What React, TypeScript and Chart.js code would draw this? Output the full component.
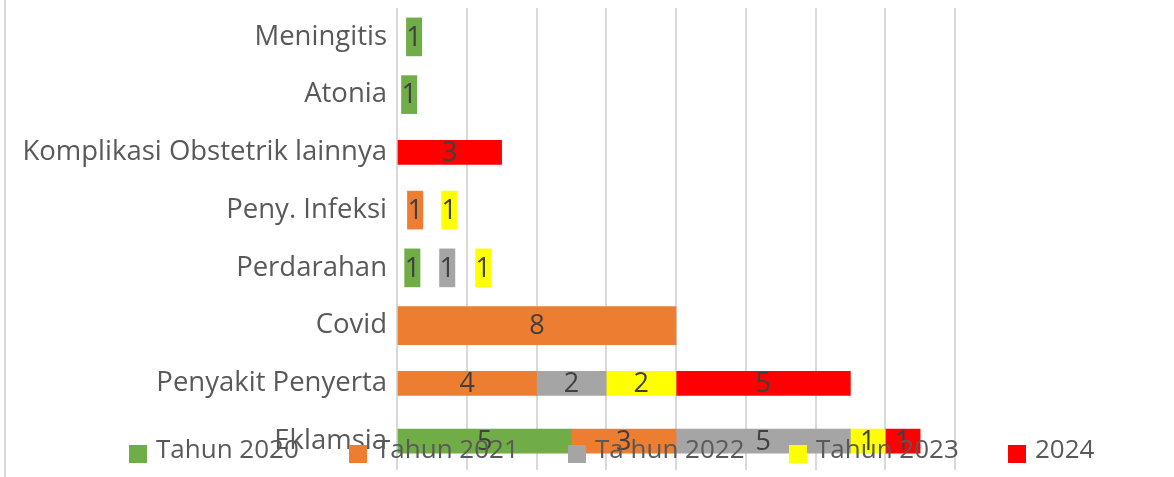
import React, { useEffect, useRef } from "react";
import { Chart, registerables } from "chart.js";

Chart.register(...registerables);

const categories = [
  "Meningitis",
  "Atonia",
  "Komplikasi Obstetrik lainnya",
  "Peny. Infeksi",
  "Perdarahan",
  "Covid",
  "Penyakit Penyerta",
  "Eklamsia",
];
const legendLabels = ["Tahun 2020", "Tahun 2021", "Ta hun 2022", "Tahun 2023", "2024"];
const seriesColors = ["#70AD47", "#ED7D31", "#A5A5A5", "#FFFF00", "#FF0000"];

const tahun2020 = [1, 1, 0, 0, 1, 0, 0, 5];
const tahun2021 = [0, 0, 0, 1, 0, 8, 4, 3];
const tahun2022 = [0, 0, 0, 0, 1, 0, 2, 5];
const tahun2023 = [0, 0, 0, 1, 1, 0, 2, 1];
const tahun2024 = [0, 0, 3, 0, 0, 0, 5, 1];

// categories whose bars are drawn thick, and those drawn as narrow offset blocks
const thickCategories = ["Meningitis", "Atonia", "Peny. Infeksi", "Perdarahan", "Covid"];
const narrowCategories = ["Meningitis", "Atonia", "Peny. Infeksi", "Perdarahan"];
// where the narrow blocks begin (axis units)
const narrowStart2020 = [0.27, 0.13, 0, 0, 0.22, 0, 0, 0];
const narrowStart2021 = [0, 0, 0, 0.3, 0, 0, 0, 0];
const narrowStart2022 = [0, 0, 0, 0, 1.22, 0, 0, 0];
const narrowStart2023 = [0, 0, 0, 1.28, 2.25, 0, 0, 0];
const narrowStart2024 = [0, 0, 0, 0, 0, 0, 0, 0];
const narrowLength = 0.44;

const xTicksMax = 16;
const xTickStep = 2;

const FONT = '"Open Sans", "Noto Sans", sans-serif';

export default function App() {
  const ref = useRef<HTMLCanvasElement | null>(null);

  useEffect(() => {
    const values = [tahun2020, tahun2021, tahun2022, tahun2023, tahun2024];
    const narrowStarts = [narrowStart2020, narrowStart2021, narrowStart2022, narrowStart2023, narrowStart2024];
    const cum = categories.map(() => 0);
    const ranges = values.map((vals, s) =>
      vals.map((v, i) => {
        if (!v) return null;
        if (narrowCategories.includes(categories[i])) {
          const st = narrowStarts[s][i];
          return [st, st + narrowLength];
        }
        const r = [cum[i], cum[i] + v];
        cum[i] += v;
        return r;
      })
    );
    const isThick = (i: number) => thickCategories.includes(categories[i]);
    const datasets: any[] = [];
    values.forEach((vals, s) => {
      datasets.push({
        label: legendLabels[s],
        data: ranges[s].map((r, i) => (isThick(i) ? r : null)),
        labelValues: vals,
        backgroundColor: seriesColors[s],
        barThickness: 38,
      });
      datasets.push({
        label: legendLabels[s] + " ",
        data: ranges[s].map((r, i) => (!isThick(i) ? r : null)),
        labelValues: vals,
        backgroundColor: seriesColors[s],
        barThickness: 24,
      });
    });

    const borderPlugin = {
      id: "leftBorder",
      beforeDraw(chart: any) {
        const ctx = chart.ctx;
        ctx.save();
        ctx.fillStyle = "#d9d9d9";
        ctx.fillRect(4, 0, 2, chart.height);
        ctx.restore();
      },
    };

    const labelPlugin = {
      id: "barLabels",
      afterDatasetsDraw(chart: any) {
        const ctx = chart.ctx;
        ctx.save();
        ctx.font = `27px ${FONT}`;
        ctx.fillStyle = "#404040";
        ctx.textAlign = "center";
        ctx.textBaseline = "middle";
        chart.data.datasets.forEach((ds: any, d: number) => {
          const meta = chart.getDatasetMeta(d);
          meta.data.forEach((el: any, i: number) => {
            if (!ds.data[i]) return;
            const p = el.getCenterPoint();
            ctx.fillText(String(ds.labelValues[i]), p.x, p.y + 1);
          });
        });
        ctx.restore();
      },
    };

    const legendPlugin = {
      id: "bottomLegend",
      afterDraw(chart: any) {
        const ctx = chart.ctx;
        const xs = [129, 349, 568, 789, 1008];
        ctx.save();
        ctx.font = `26px ${FONT}`;
        ctx.textBaseline = "middle";
        ctx.textAlign = "left";
        legendLabels.forEach((lab, s) => {
          ctx.fillStyle = seriesColors[s];
          ctx.fillRect(xs[s], 445, 18, 18);
          ctx.fillStyle = "#595959";
          ctx.fillText(lab, xs[s] + 27, 451);
        });
        ctx.restore();
      },
    };

    const chart = new Chart(ref.current as HTMLCanvasElement, {
      type: "bar",
      data: { labels: categories, datasets },
      options: {
        indexAxis: "y",
        responsive: false,
        animation: false,
        layout: { padding: { left: 0, right: 219, top: 8, bottom: 7 } },
        datasets: { bar: { grouped: false } } as any,
        scales: {
          x: {
            min: 0,
            max: xTicksMax,
            ticks: { display: false, stepSize: xTickStep },
            grid: { color: "#d9d9d9", lineWidth: 2, drawTicks: false },
            border: { display: false },
            afterFit: (s: any) => {
              s.height = 0;
              s.paddingLeft = 0;
              s.paddingRight = 0;
            },
          },
          y: {
            ticks: { color: "#595959", font: { family: FONT, size: 27.5 }, padding: 10 },
            grid: { display: false, drawTicks: false },
            border: { display: false },
            afterFit: (s: any) => {
              s.width = 397;
              s.paddingTop = 0;
              s.paddingBottom = 0;
            },
          },
        },
        plugins: { legend: { display: false }, tooltip: { enabled: false } },
      },
      plugins: [borderPlugin, labelPlugin, legendPlugin],
    });
    return () => chart.destroy();
  }, []);

  return (
    <div style={{ position: "fixed", left: 0, top: 0, width: 1174, height: 477, background: "#fff" }}>
      <canvas ref={ref} width={1174} height={477} style={{ width: 1174, height: 477 }} />
    </div>
  );
}
